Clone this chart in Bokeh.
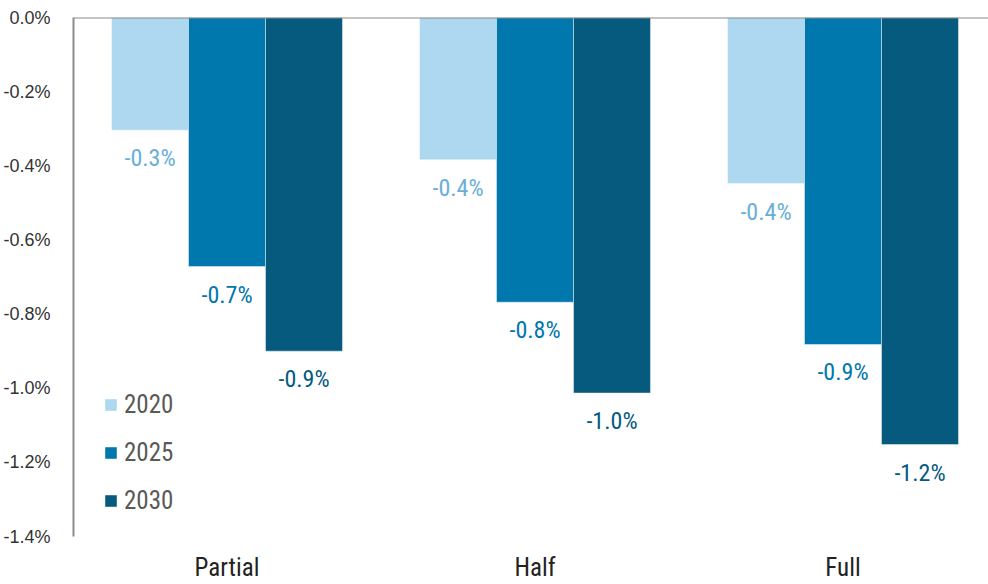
from bokeh.plotting import figure
from bokeh.models import (ColumnDataSource, Range1d, FixedTicker, PrintfTickFormatter,
                          Span, LabelSet, Legend, LegendItem)
from bokeh.core.properties import value
from bokeh.embed import file_html
from bokeh.resources import INLINE

# ---- data ----
categories = ["Partial", "Half", "Full"]
series = ["2020", "2025", "2030"]
v2020 = [-0.304, -0.384, -0.448]
v2025 = [-0.672, -0.768, -0.882]
v2030 = [-0.900, -1.013, -1.152]
y_ticks = [0.0, -0.2, -0.4, -0.6, -0.8, -1.0, -1.2, -1.4]

bar_colors = ["#ADD8F0", "#0077AD", "#055A7E"]
label_colors = ["#6AAED8", "#0077AD", "#055A7E"]
offsets = [-0.25, 0.0, 0.25]
bar_w = 0.25

F_LAB = "Roboto Condensed, Roboto"

p = figure(width=988, height=584, output_backend="svg", toolbar_location=None,
           x_range=Range1d(-0.4984, 2.4724), y_range=Range1d(-1.4, 0.0),
           min_border_left=73, min_border_right=0, min_border_top=17, min_border_bottom=48)
p.outline_line_color = None
p.xgrid.grid_line_color = None
p.ygrid.grid_line_color = None
p.background_fill_color = "white"
p.border_fill_color = "white"

renderers = []
for vals, off, bc, lc in zip([v2020, v2025, v2030], offsets, bar_colors, label_colors):
    xs = [i + off for i in range(len(categories))]
    src = ColumnDataSource(dict(x=xs, top=[0.0] * len(vals), bottom=vals,
                                lab=["%.1f%%" % v for v in vals]))
    r = p.vbar(x="x", width=bar_w, top="top", bottom="bottom", source=src,
               fill_color=bc, line_color="white", line_alpha=0.45, line_width=1)
    renderers.append(r)
    ls = LabelSet(x="x", y="bottom", text="lab", source=src, y_offset=-28,
                  text_align="center", text_baseline="middle",
                  text_font=value(F_LAB), text_font_size=value("24px"),
                  text_color=lc)
    p.add_layout(ls)

p.add_layout(Span(location=0, dimension="width", line_color="#8c8c8c", line_width=2))

# y axis
yax = p.yaxis[0]
yax.ticker = FixedTicker(ticks=y_ticks)
yax.formatter = PrintfTickFormatter(format="%.1f%%")
yax.major_tick_line_color = None
yax.minor_tick_line_color = None
yax.axis_line_color = "#8c8c8c"
yax.axis_line_width = 2
yax.major_label_text_font = "Liberation Sans"
yax.major_label_text_font_size = "18px"
yax.major_label_text_color = "#333333"
yax.major_label_standoff = 17

# x axis
xax = p.xaxis[0]
xax.ticker = FixedTicker(ticks=list(range(len(categories))))
xax.major_label_overrides = {i: c for i, c in enumerate(categories)}
xax.major_tick_line_color = None
xax.minor_tick_line_color = None
xax.axis_line_color = None
xax.major_label_text_font = F_LAB
xax.major_label_text_font_size = "25px"
xax.major_label_text_color = "#222222"
xax.major_label_standoff = 10

legend = Legend(items=[LegendItem(label=s, renderers=[r]) for s, r in zip(series, renderers)],
                location=(30, 21), orientation="vertical",
                glyph_width=15, glyph_height=15, label_height=15, spacing=19,
                label_standoff=6, padding=0, margin=0,
                border_line_color=None, background_fill_alpha=0,
                label_text_font=F_LAB, label_text_font_size="25px",
                label_text_color="#595959")
p.add_layout(legend)

open("out.html", "w").write(file_html(p, INLINE))
